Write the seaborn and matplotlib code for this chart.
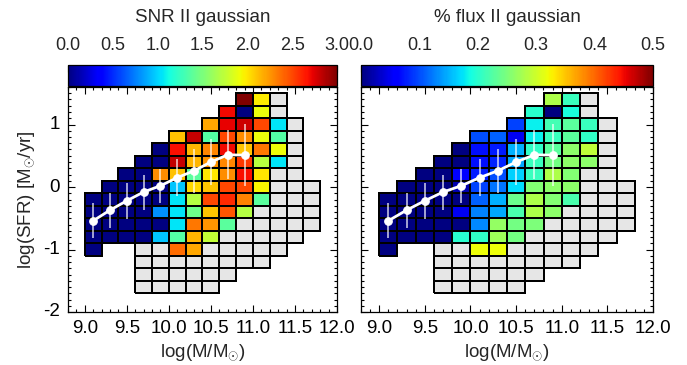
import numpy as np
import matplotlib
matplotlib.use("Agg")
import matplotlib.pyplot as plt
import seaborn as sns
from matplotlib.colors import ListedColormap

sns.set_style("white")
plt.rcParams['font.family'] = ['Liberation Sans', 'DejaVu Sans']
plt.rcParams['mathtext.fontset'] = 'custom'
plt.rcParams['mathtext.rm'] = 'Liberation Sans'
plt.rcParams['mathtext.it'] = 'Liberation Sans:italic'

N = None      # no bin
G = np.nan    # bin present but no measurement (grey)

# grid: columns log M centres 9.1 ... 11.7, rows log SFR centres 1.4 (top) ... -1.6 (bottom)
mass_first_edge = 9.0
sfr_first_edge = -1.7
bin_size = 0.2

snr_rows = [
    [N, N, N, N, N, N, N, N, N, 3.0, 1.98, G, N, N],
    [N, N, N, N, N, N, N, N, 2.7, 0.0, 1.9, G, N, N],
    [N, N, N, N, N, N, N, 2.2, 2.72, 2.8, 2.5, 1.05, G, N],
    [N, N, N, N, N, 2.12, 2.82, 1.35, 2.5, 2.28, 1.9, 1.35, G, N],
    [N, N, N, N, 0.0, 2.68, 2.15, 2.3, 2.7, 2.1, 2.35, 1.92, G, N],
    [N, N, N, 0.0, 0.0, 2.82, 2.15, 2.25, 2.3, 2.55, 1.72, 1.05, G, N],
    [N, N, 0.0, 0.0, 2.28, 2.12, 1.38, 2.0, 2.28, 2.68, 2.0, G, G, N],
    [N, 0.0, 0.0, 0.0, 0.0, 0.95, 2.05, 2.1, 2.5, 2.5, 1.95, G, G, G],
    [0.0, 0.0, 0.0, 0.0, 0.0, 1.05, 1.7, 2.5, 2.6, 2.32, 1.38, G, G, G],
    [0.0, 0.0, 0.0, 0.0, 0.8, 1.05, 1.45, 2.1, 2.45, 1.7, G, G, G, G],
    [0.0, 0.0, 0.0, 0.0, 0.0, 1.05, 2.35, 2.25, 1.38, G, G, G, G, G],
    [0.0, 0.0, 0.0, 0.0, 0.95, 1.35, 2.15, 1.75, G, G, G, G, G, N],
    [0.0, N, N, G, G, 2.38, 2.2, G, G, G, G, G, N, N],
    [N, N, N, G, G, G, G, G, G, G, G, N, N, N],
    [N, N, N, G, G, G, G, G, G, N, N, N, N, N],
    [N, N, N, G, G, G, G, G, N, N, N, N, N, N],
]

flux_rows = [
    [N, N, N, N, N, N, N, N, N, 0.28, 0.21, G, N, N],
    [N, N, N, N, N, N, N, N, 0.2, 0.0, 0.19, G, N, N],
    [N, N, N, N, N, N, N, 0.095, 0.18, 0.215, 0.23, 0.21, G, N],
    [N, N, N, N, N, 0.1, 0.11, 0.05, 0.18, 0.21, 0.23, 0.205, G, N],
    [N, N, N, N, 0.0, 0.07, 0.075, 0.15, 0.205, 0.23, 0.26, 0.29, G, N],
    [N, N, N, 0.0, 0.0, 0.07, 0.08, 0.145, 0.21, 0.245, 0.26, 0.26, G, N],
    [N, N, 0.0, 0.0, 0.055, 0.075, 0.1, 0.165, 0.21, 0.28, 0.255, G, G, N],
    [N, 0.0, 0.0, 0.0, 0.02, 0.095, 0.12, 0.17, 0.255, 0.26, 0.26, G, G, G],
    [0.0, 0.0, 0.0, 0.0, 0.0, 0.11, 0.15, 0.24, 0.28, 0.255, 0.22, G, G, G],
    [0.0, 0.0, 0.0, 0.0, 0.05, 0.125, 0.145, 0.22, 0.28, 0.26, G, G, G, G],
    [0.0, 0.0, 0.0, 0.0, 0.0, 0.13, 0.265, 0.245, 0.25, G, G, G, G, G],
    [0.0, 0.0, 0.0, 0.0, 0.2, 0.205, 0.27, 0.245, G, G, G, G, G, N],
    [0.0, N, N, G, G, 0.32, 0.32, G, G, G, G, G, N, N],
    [N, N, N, G, G, G, G, G, G, G, G, N, N, N],
    [N, N, N, G, G, G, G, G, G, N, N, N, N, N],
    [N, N, N, G, G, G, G, G, N, N, N, N, N, N],
]

med_mass = [9.1, 9.3, 9.5, 9.7, 9.9, 10.1, 10.3, 10.5, 10.7, 10.9]
med_sfr = [-0.54, -0.37, -0.22, -0.08, 0.02, 0.15, 0.26, 0.40, 0.515, 0.51]
med_err = [0.28, 0.28, 0.29, 0.28, 0.27, 0.30, 0.35, 0.37, 0.39, 0.50]

x_ticks = [9.0, 9.5, 10.0, 10.5, 11.0, 11.5, 12.0]
y_ticks = [-2, -1, 0, 1]
snr_ticks = [0.0, 0.5, 1.0, 1.5, 2.0, 2.5, 3.0]
flux_ticks = [0.0, 0.1, 0.2, 0.3, 0.4, 0.5]
xlim = (8.8, 12.0)
ylim = (-2.0, 1.6)

FS = 13.5
W, H = 687, 365
fig = plt.figure(figsize=(W / 100, H / 100), dpi=100)


def fx(px):
    return px / W


def fy(py):
    return 1 - py / H


def to_u(x):
    return (np.asarray(x, float) - mass_first_edge) / bin_size


def to_v(y):
    return (np.asarray(y, float) - sfr_first_edge) / bin_size


def outline_only(mesh, drawn):
    cols = np.zeros((drawn.size, 4))
    cols[drawn.ravel(), 3] = 1.0
    mesh.set_edgecolor(cols)
    mesh.set_linewidth(1.35)


def panel(x0, x1, rows, vmax, cticks, title, ylabels):
    ax = fig.add_axes([fx(x0), fy(312), fx(x1) - fx(x0), fy(87) - fy(312)])
    cax = fig.add_axes([fx(x0), fy(86), fx(x1) - fx(x0), fy(65) - fy(86)])
    ordered = rows[::-1]
    present = np.array([[v is not None for v in r] for r in ordered])
    vals = np.array([[np.nan if v is None else v for v in r] for r in ordered], float)
    grey = np.where(present, 1.0, np.nan)
    sns.heatmap(grey, ax=ax, mask=~present, cmap=ListedColormap(['#e6e6e6']),
                vmin=0, vmax=2, cbar=False)
    outline_only(ax.collections[-1], present)
    sns.heatmap(vals, ax=ax, mask=np.isnan(vals), cmap='jet', vmin=0, vmax=vmax,
                cbar=True, cbar_ax=cax, cbar_kws={'orientation': 'horizontal'})
    mesh = ax.collections[-1]
    outline_only(mesh, ~np.isnan(vals))
    cb = mesh.colorbar
    # median relation
    u = to_u(med_mass)
    v = to_v(med_sfr)
    e = np.asarray(med_err) / bin_size
    ax.vlines(u, v - e, v + e, color='white', alpha=0.7, lw=1.3, zorder=4)
    sns.lineplot(x=u, y=v, ax=ax, color='white', lw=2.0, marker='o', markersize=5.5,
                 markeredgecolor='white', zorder=5)
    ax.set_xlim(to_u(xlim[0]), to_u(xlim[1]))
    ax.set_ylim(to_v(ylim[0]), to_v(ylim[1]))
    for s in ax.spines.values():
        s.set_visible(True)
        s.set_color('black')
        s.set_linewidth(0.9)
    ax.set_xticks(to_u(x_ticks))
    ax.set_xticklabels([f"{t:.1f}" for t in x_ticks], rotation=0)
    ax.set_xticks(to_u(np.arange(8.8, 12.001, 0.1)), minor=True)
    ax.set_yticks(to_v(y_ticks))
    ax.set_yticklabels([str(t) for t in y_ticks] if ylabels else [], rotation=0)
    ax.set_yticks(to_v(np.arange(-2.0, 1.601, 0.1)), minor=True)
    ax.tick_params(which='both', direction='in', top=True, right=True, bottom=True, left=True,
                   labelsize=FS, colors='black', width=0.8)
    ax.tick_params(which='major', length=5, pad=6)
    ax.tick_params(which='minor', length=2.5)
    ax.set_xlabel(r'log(M/M$_{\odot}$)', fontsize=FS, labelpad=4)
    if ylabels:
        ax.set_ylabel(r'log(SFR) [M$_{\odot}$/yr]', fontsize=FS, labelpad=4)
    else:
        ax.set_ylabel('')
    if cb is not None:
        cb.outline.set_linewidth(0.9)
        cb.outline.set_edgecolor('black')
        cb.set_ticks(cticks)
    cax.xaxis.set_ticks_position('top')
    cax.xaxis.set_label_position('top')
    cax.set_xticks(cticks)
    cax.set_xticklabels([f"{t:.1f}" for t in cticks])
    cax.tick_params(axis='x', direction='in', length=5, labelsize=13, pad=8, width=0.8)
    fig.text(fx((x0 + x1) / 2), fy(18), title, ha='center', va='center', fontsize=FS)
    return ax


panel(68, 337, snr_rows, 3.0, snr_ticks, 'SNR II gaussian', True)
panel(361, 653, flux_rows, 0.5, flux_ticks, '% flux II gaussian', False)

fig.savefig('out.png', dpi=100)
